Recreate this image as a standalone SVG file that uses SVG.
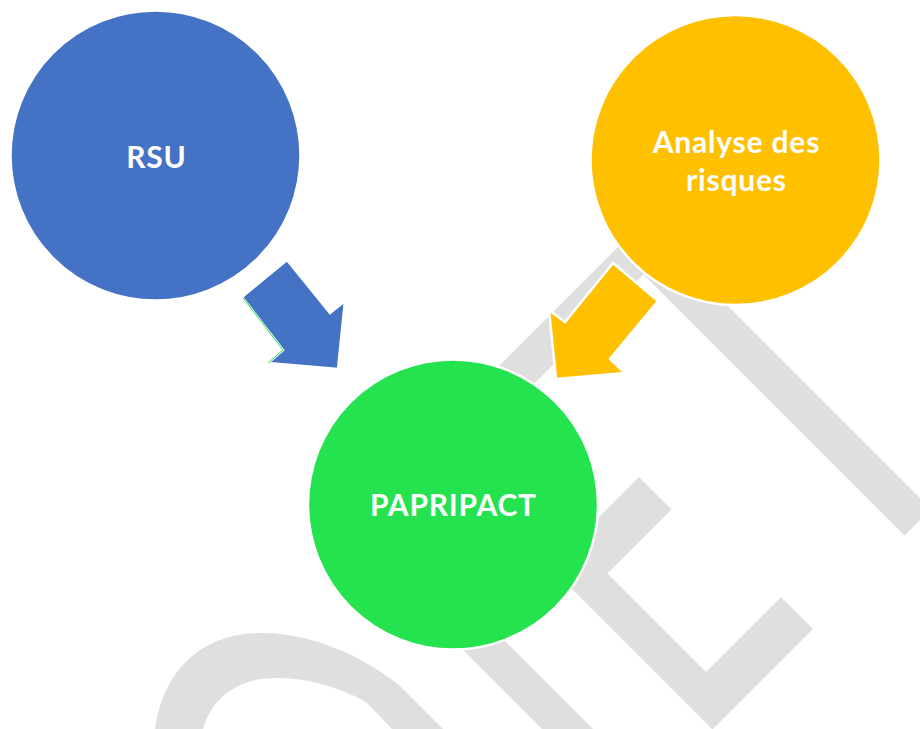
<svg xmlns="http://www.w3.org/2000/svg" width="920" height="729" viewBox="0 0 920 729">
  <style>
    .wm { fill: #DFDFDF; }
    .node { stroke: #FFFFFF; stroke-width: 2.5; }
    .arrow { stroke: #FFFFFF; stroke-width: 2.5; stroke-linejoin: miter; }
    .label { font-family: Lato, "Open Sans", "Liberation Sans", sans-serif; font-weight: 700; font-size: 30px; letter-spacing: 0.8px; fill: #FFFFFF; text-anchor: middle; }
  </style>
  <rect x="0" y="0" width="920" height="729" fill="#FFFFFF"/>
  <g id="watermark">
    <polygon class="wm" points="457.5,407.5 643.5,221.5 931,509 904.5,535.5 643.5,274.5 484,434"/>
    <polygon class="wm" points="639,477 671.5,509.5 607.5,573.5 706,672 781,597 813,629 712.5,729.5 549.5,566.5"/>
    <polygon class="wm" points="406.5,593.5 432,568 732,868 706.5,893.5"/>
    <path class="wm" d="M155,729 C163,672 200,633 262,633 C310,633 362,655 400,686 L444,730 L393,730 L366,702 C335,685 305,678 275,678 C236,678 211,700 203,729 Z"/>
  </g>
  <g id="connectors">
    <g id="arrow-rsu">
      <polygon class="arrow" fill="#4472C4" points="287,260 330,313 345,301 338,369 268,363 283,350 242,297"/>
      <polyline points="243,298 283,350 268,363" fill="none" stroke="#24E34F" stroke-width="1"/>
    </g>
    <g id="arrow-analyse">
      <polygon class="arrow" fill="#FFC000" points="613,263 658,301 610,359 625,373 556,379 549,310 565,322"/>
    </g>
  </g>
  <g id="node-rsu">
    <circle class="node" cx="155.5" cy="155.5" r="145" fill="#4472C4"/>
    <text class="label" x="156.4" y="168">RSU</text>
  </g>
  <g id="node-analyse">
    <circle class="node" cx="735.5" cy="160" r="145" fill="#FFC000"/>
    <text class="label" x="736.4" y="153">Analyse des</text>
    <text class="label" x="736.4" y="191">risques</text>
  </g>
  <g id="node-papripact">
    <circle class="node" cx="453" cy="504.5" r="145" fill="#24E34F"/>
    <text class="label" x="453.4" y="516">PAPRIPACT</text>
  </g>
</svg>
